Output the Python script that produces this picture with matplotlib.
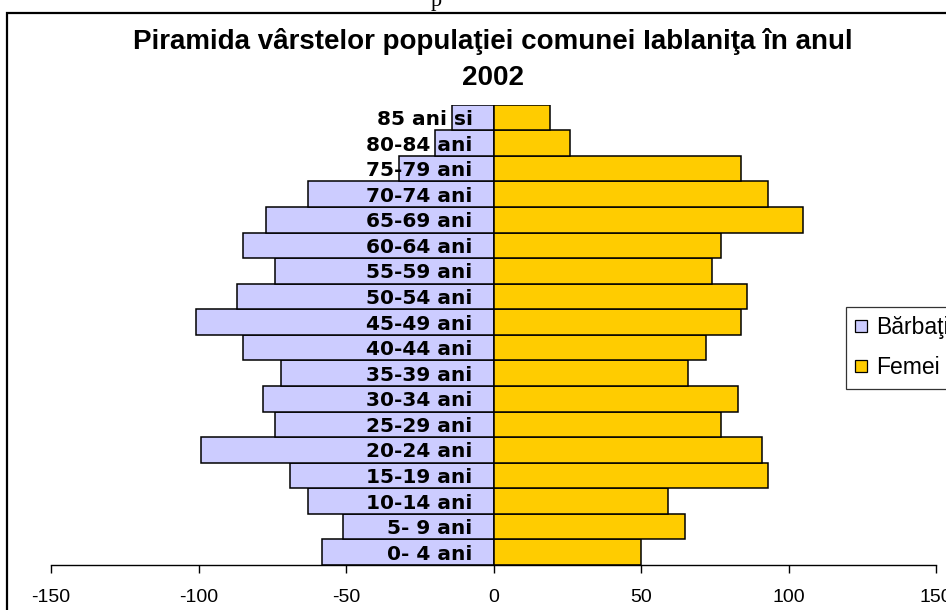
import matplotlib
matplotlib.use("Agg")
import matplotlib.pyplot as plt
from matplotlib.patches import Rectangle
from matplotlib.lines import Line2D

# date: piramida varstelor, comuna Iablanita, 2002
grupe = ["0- 4 ani", "5- 9 ani", "10-14 ani", "15-19 ani", "20-24 ani",
         "25-29 ani", "30-34 ani", "35-39 ani", "40-44 ani", "45-49 ani",
         "50-54 ani", "55-59 ani", "60-64 ani", "65-69 ani", "70-74 ani",
         "75-79 ani", "80-84 ani", "85 ani si"]
barbati = [-58, -51, -63, -69, -99, -74, -78, -72, -85, -101,
           -87, -74, -85, -77, -63, -32, -20, -14]
femei = [50, 65, 59, 93, 91, 77, 83, 66, 72, 84,
         86, 74, 77, 105, 93, 84, 26, 19]
xticks = [-150, -100, -50, 0, 50, 100, 150]

W, H = 946, 610
MOV = "#CCCCFF"
GALBEN = "#FFCC00"

plt.rcParams["font.family"] = ["Liberation Sans", "DejaVu Sans"]

fig = plt.figure(figsize=(W / 100, H / 100), dpi=100)
fig.patch.set_facecolor("white")

# rama graficului (iese din imagine in dreapta si jos)
fig.patches.append(Rectangle((7 / W, -0.2), 1.2, 1.2 - 13 / H,
                             transform=fig.transFigure, fill=False,
                             edgecolor="black", lw=1.6))
# rest de text deasupra ramei
fig.text(436 / W, 1 - 6 / H, "p", ha="center", va="baseline",
         fontsize=16, family="Liberation Serif")

fig.text(493 / W, 1 - 49 / H,
         "Piramida vârstelor populaţiei comunei Iablaniţa în anul",
         ha="center", va="baseline", fontsize=20, fontweight="bold")
fig.text(493 / W, 1 - 85 / H, "2002", ha="center", va="baseline",
         fontsize=20, fontweight="bold")

ax = fig.add_axes([51 / W, 45 / H, 885 / W, (565 - 104.7) / H])
y = list(range(len(grupe)))
ax.barh(y, barbati, height=1.0, color=MOV, edgecolor="black", lw=1.1,
        label="Bărbaţi")
ax.barh(y, femei, height=1.0, color=GALBEN, edgecolor="black", lw=1.1,
        label="Femei")

ax.set_xlim(-150, 150)
ax.set_ylim(-0.5, len(grupe) - 0.5)
ax.set_xticks(xticks)
ax.set_xticklabels([str(v) for v in xticks], fontsize=14)
ax.tick_params(axis="x", direction="out", length=6, width=1, pad=11)

ax.spines["left"].set_position(("data", 0))
ax.spines["left"].set_visible(False)
ax.set_yticks(y)
ax.set_yticklabels(grupe, fontsize=14.5, fontweight="bold",
                   family="DejaVu Sans")
ax.tick_params(axis="y", length=0, pad=15)
for s in ["top", "right"]:
    ax.spines[s].set_visible(False)
ax.spines["bottom"].set_linewidth(1)

handles = [Line2D([], [], marker="s", ls="none", markersize=8,
                  markerfacecolor=c, markeredgecolor="black",
                  markeredgewidth=0.9) for c in (MOV, GALBEN)]
leg = fig.legend(handles, ["Bărbaţi", "Femei"], loc="upper left",
                 bbox_to_anchor=(846 / W, 1 - 307 / H), fontsize=16.5,
                 frameon=True, fancybox=False, edgecolor="black",
                 handlelength=0.55, handletextpad=0.35, labelspacing=0.75,
                 borderpad=0.4, borderaxespad=0)
leg.get_frame().set_linewidth(0.9)

fig.savefig("out.png", dpi=100, facecolor="white")
